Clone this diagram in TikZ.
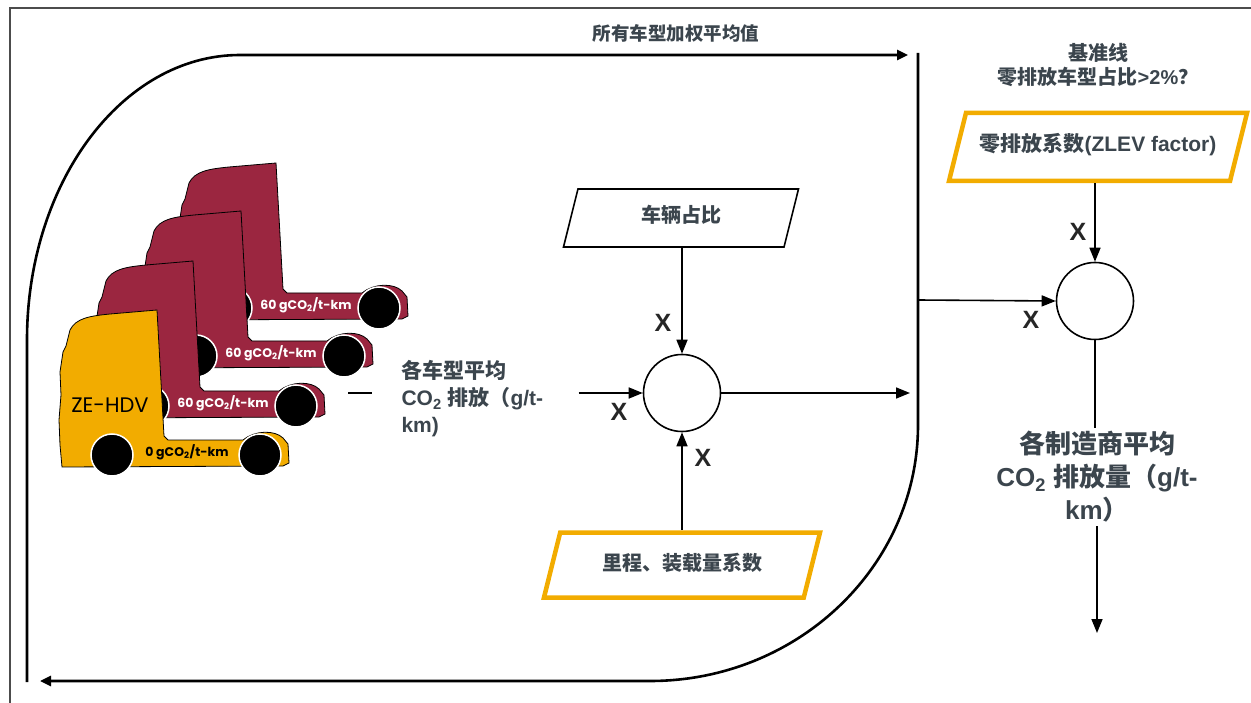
\documentclass[tikz,border=0pt]{standalone}
\usepackage{fontspec}
\setmainfont{Liberation Sans}[BoldFont={Liberation Sans Bold}]
\newfontfamily\cjk{Noto Sans CJK SC}
\newfontfamily\truckfont{Poppins}
\usetikzlibrary{arrows.meta,shapes.geometric}

\definecolor{ink}{HTML}{3B454D}
\definecolor{maroon}{HTML}{9B2640}
\definecolor{amber}{HTML}{F2AC00}
\newcommand{\zh}[1]{{\cjk #1}}

\begin{document}
\begin{tikzpicture}[
			x=1pt, y=-1pt,
			>={Triangle[length=14pt,width=11pt]},
			link/.style = {line width=1.6pt},
			loop/.style = {line width=2.6pt, >={Triangle[length=11pt,width=10pt]}},
			mult/.style = {draw, circle, line width=1.6pt, minimum size=77pt, inner sep=0pt},
			slant/.style = {draw, trapezium, trapezium left angle=76, trapezium right angle=104,
				trapezium stretches body, inner xsep=0pt, text height=15pt, text depth=5pt, text=ink,
				font=\bfseries\fontsize{20}{24}\selectfont},
			factor/.style = {slant, draw=amber, line width=4.5pt},
			share/.style = {slant, line width=1.6pt},
			note/.style = {text=ink, align=center, font=\bfseries\fontsize{21}{27}\selectfont},
			times/.style = {text=black!85, font=\bfseries\fontsize{25}{25}\selectfont},
			tag/.style = {font=\truckfont\bfseries\fontsize{12.5}{12.5}\selectfont, inner sep=0pt}
		]
		\useasboundingbox (0,0) rectangle (1251,703);
		\draw[black!70, line width=2.5pt] (10,712) -- (10,8) -- (1260,8);
		% Draw the truck fleet, back to front.
		\foreach \dx/\dy/\body/\tc/\co [count=\i] in {119/-147/maroon/white/60, 84/-99/maroon/white/60,
				36/-49/maroon/white/60, 0/0/amber/black/0} {
			\begin{scope}[shift={(\dx,\dy)}]
				\filldraw[fill=\body, draw=black, line width=0.8pt]
					(62,467) -- (60,445) -- (59,420) -- (61,395) -- (60,372) -- (63,352) -- (66,346)
					-- (70,330) .. controls (76,318) and (90,316) .. (110,314) -- (157,310)
					-- (164,436) -- (168,440) -- (243,440) .. controls (255,430) and (275,430) .. (283,438)
					-- (288,444) -- (289,463) -- (283,466) -- cycle;
				\filldraw[fill=black, draw=white, line width=1.5pt]
					(112,455) circle[radius=21pt] (260,455) circle[radius=21pt];
				\node[tag, text=\tc] (tag\i) at (187,452) {\co\ gCO\textsubscript{2}/t-km};
			\end{scope}
		}
		\node[font=\truckfont\fontsize{21}{21}\selectfont, inner sep=0pt] (zehdv) at (110,405) {ZE-HDV};
		% Inputs, multipliers and results.
		\node[note, align=left, anchor=west] (avg) at (398,399) {\zh{各车型平均}\\CO\textsubscript{2} \zh{排放（}g/t-\\km)};
		\node[mult] (c1) at (682,393) {};
		\node[share, minimum width=235pt, inner ysep=19pt] (share) at (681,218) {\zh{车辆占比}};
		\node[factor, minimum width=276pt, inner ysep=22.5pt] (load) at (682,565) {\zh{里程、装载量系数}};
		\node[note, font=\bfseries\fontsize{18.5}{24}\selectfont] (title) at (676,33) {\zh{所有车型加权平均值}};
		\node[note, font=\bfseries\fontsize{20}{24}\selectfont] (base) at (1098,65) {\zh{基准线}\\\zh{零排放车型占比}>2\%\zh{？}};
		\node[factor, minimum width=298pt, inner ysep=24pt, font=\bfseries\fontsize{21}{24}\selectfont] (zlev) at (1098,147) {\zh{零排放系数}(ZLEV factor)};
		\node[mult] (c2) at (1095,301) {};
		\node[note, font=\bfseries\fontsize{26}{33}\selectfont] (oem) at (1097,477) {\zh{各制造商平均}\\CO\textsubscript{2} \zh{排放量（}g/t-\\km\zh{）}};
		\coordinate (m1) at (910,393);
		\coordinate (j1) at (918,300);
		\coordinate (out) at (1097,633);
		% Draw the multiplications.
		\draw[link] (348,393) -- (372,393);
		\draw[link, ->, shorten <=32pt] (avg.east |- c1.west) -- (c1.west);
		\draw[link, ->] (c1.north |- share.south) -- (c1.north);
		\draw[link, ->] (load.north -| c1.south) -- (c1.south);
		\draw[link, ->] (c1.east) -- (m1);
		\draw[link, ->] (j1) -- (c2.west);
		\draw[link, ->] (zlev.south -| c2.north) -- (c2.north);
		\draw[link] (c2.south) -- (c2.south |- oem.north);
		\draw[link, ->] (oem.south -| out) -- (out);
		\node[times] (x1) at (619,412) {X};
		\node[times] (x2) at (663,323) {X};
		\node[times] (x3) at (703,458) {X};
		\node[times] (x4) at (1031,320) {X};
		\node[times] (x5) at (1078,232) {X};
		% Draw the weighting loop.
		\draw[loop, ->] (27,682) -- (27,340) .. controls (27,183) and (122,55) .. (240,55) -- (908,55);
		\draw[loop, ->] (918,53) -- (918,425) .. controls (918,566) and (798,681) .. (650,681) -- (40,681);
	\end{tikzpicture}
\end{document}
